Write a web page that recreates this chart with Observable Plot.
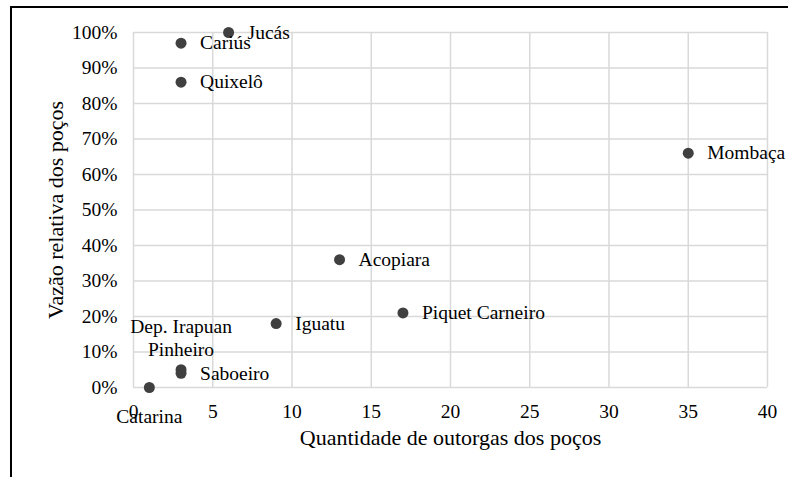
<!DOCTYPE html>
<html>
<head>
<meta charset="utf-8">
<script src="https://cdn.jsdelivr.net/npm/d3@7"></script>
<script src="https://cdn.jsdelivr.net/npm/@observablehq/plot@0.6"></script>
<style>
  html, body { margin: 0; padding: 0; background: #fff; }
  #wrap { position: relative; width: 788px; height: 477px; overflow: hidden; }
  #frame { position: absolute; left: 10px; top: 6px; right: -4px; bottom: -4px; border-left: 2px solid #000; border-top: 2px solid #000; pointer-events: none; }
  svg { display: block; overflow: visible; }
</style>
</head>
<body>
<div id="wrap"><div id="frame"></div></div>
<script>
const municipios = ["Jucás", "Cariús", "Quixelô", "Mombaça", "Acopiara", "Piquet Carneiro", "Iguatu", "Dep. Irapuan Pinheiro", "Saboeiro", "Catarina"];
const outorgas = [6, 3, 3, 35, 13, 17, 9, 3, 3, 1];
const vazao = [1.00, 0.97, 0.86, 0.66, 0.36, 0.21, 0.18, 0.05, 0.04, 0.00];
const xTicks = [0, 5, 10, 15, 20, 25, 30, 35, 40];
const yTicks = [0, 0.1, 0.2, 0.3, 0.4, 0.5, 0.6, 0.7, 0.8, 0.9, 1.0];
const xTitle = "Quantidade de outorgas dos poços";
const yTitle = "Vazão relativa dos poços";

const data = municipios.map((m, i) => ({name: m, x: outorgas[i], y: vazao[i]}));
const rightLabels = data.filter(d => d.name !== "Dep. Irapuan Pinheiro" && d.name !== "Catarina");
const aboveLabels = data.filter(d => d.name === "Dep. Irapuan Pinheiro").map(d => ({...d, label: "Dep. Irapuan\nPinheiro"}));
const belowLabels = data.filter(d => d.name === "Catarina");

const font = "'Liberation Serif', 'Times New Roman', serif";
const grid = "#d9d9d9";
const dark = "#404040";
const fs = 19.5;

const chart = Plot.plot({
  width: 788,
  height: 477,
  marginLeft: 133,
  marginRight: 21,
  marginTop: 32,
  marginBottom: 90,
  style: {fontFamily: font, fontSize: fs + "px", color: "#000", background: "transparent"},
  x: {domain: [0, 40]},
  y: {domain: [0, 1]},
  marks: [
    Plot.gridX(xTicks, {stroke: grid, strokeOpacity: 1, strokeWidth: 1.5}),
    Plot.gridY(yTicks, {stroke: grid, strokeOpacity: 1, strokeWidth: 1.5}),
    Plot.axisX(xTicks, {tickSize: 0, tickPadding: 17, fontSize: fs, fill: "#000", label: null}),
    Plot.axisY(yTicks, {tickSize: 0, tickPadding: 16, fontSize: fs, fill: "#000", tickFormat: d => Math.round(d * 100) + "%", label: null}),
    Plot.dot(data, {x: "x", y: "y", r: 5.5, fill: dark, stroke: null}),
    Plot.text(rightLabels, {x: "x", y: "y", text: "name", textAnchor: "start", dx: 19, dy: 0, fontSize: fs, fill: "#000"}),
    Plot.text(aboveLabels, {x: "x", y: "y", text: "label", textAnchor: "middle", dy: -32.5, lineHeight: 1.15, fontSize: fs, fill: "#000"}),
    Plot.text(belowLabels, {x: "x", y: "y", text: "name", textAnchor: "middle", dy: 29, fontSize: fs, fill: "#000"}),
    Plot.text([xTitle], {frameAnchor: "bottom", textAnchor: "middle", lineAnchor: "middle", dy: 50, fontSize: 22, fill: "#000"}),
    Plot.text([yTitle], {frameAnchor: "left", textAnchor: "middle", lineAnchor: "middle", dx: -78, rotate: -90, fontSize: 22, fill: "#000"})
  ]
});
document.getElementById("wrap").insertBefore(chart, document.getElementById("frame"));
</script>
</body>
</html>
